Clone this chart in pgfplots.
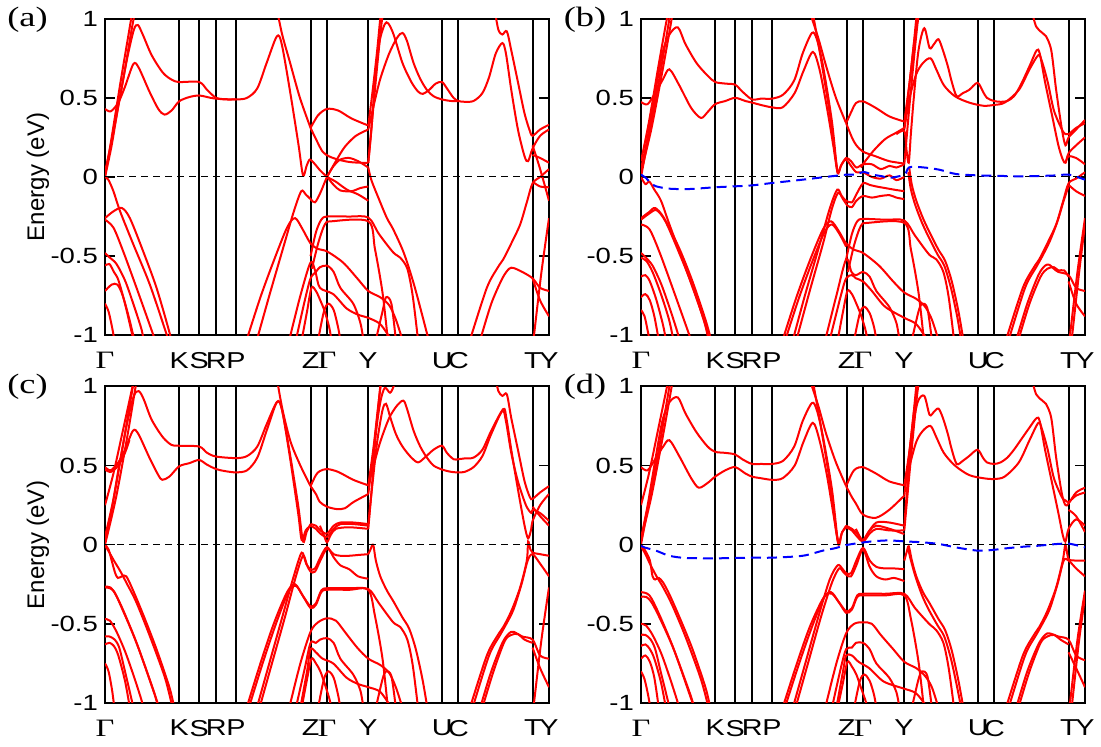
\documentclass[border=0pt]{standalone}
\usepackage{fontspec}
\setmainfont{Liberation Sans}[FakeStretch=1.25]
\newfontfamily\rmserif{Liberation Serif}[FakeStretch=1.3]
\newfontfamily\plainsans{Liberation Sans}
\usepackage{pgfplots}
\pgfplotsset{compat=1.18}
\pgfplotsset{
  bandaxis/.style={
    scale only axis, width=222pt, height=158.3pt, anchor=south west,
    xmin=0, xmax=100, ymin=-1, ymax=1,
    xtick={0,16.7,21.2,25.05,29.5,46.3,50,59.25,75.95,79.6,96.35,100},
    xticklabels={{\fontsize{12.5}{12}\selectfont\rmserif Γ},K,S,R,P,Z,{\fontsize{12.5}{12}\selectfont\rmserif Γ},Y,U,C,T,Y},
    xmajorgrids, major grid style={black, line width=1pt},
    x tick style={draw=none},
    ytick={-1,-0.5,0,0.5,1},
    yticklabels={\textnormal{-1},\textnormal{-0.5},\textnormal{0},\textnormal{0.5},\textnormal{1}},
    major tick length=5pt, y tick style={black, line width=0.8pt},
    axis line style={line width=1pt},
    tick label style={font=\fontsize{11}{12}\selectfont},
    xticklabel style={font=\fontsize{11.5}{12}\selectfont, yshift=-5pt},
  },
  band/.style={red, line width=1pt, smooth},
  zero/.style={black, line width=0.5pt, dash pattern=on 3.5pt off 2.5pt},
  spin/.style={blue, line width=1pt, dash pattern=on 5pt off 3pt, smooth},
}
\begin{document}
\begin{tikzpicture}
\useasboundingbox (0,0) rectangle (550.5pt,373.5pt);
% ---------------- (a)
\begin{axis}[bandaxis, at={(52.5pt,205.85pt)}]
\addplot[band] coordinates {(0,.43)(1.3,.415)(3,.47)(4.5,.57)(6.4,.714)(7.6,.69)(10,.54)(12,.43)(13.4,.394)(15,.42)(16.7,.478)(19,.505)(21.2,.515)(23,.505)(25,.495)(29.5,.49)(32,.50)(34.3,.56)(36.4,.72)(38.7,.888)(39.8,.84)(41.8,.52)(43.6,.2)(44.6,.01)(45.4,.07)(46.1,.11)(47,.09)(48.5,.04)(50,0)(51.5,-.05)(53,-.085)(55.5,-.09)(57.5,-.07)(59.3,-.06)};
\addplot[band] coordinates {(0,0)(1.5,.2)(3,.45)(5,.75)(6.5,.93)(7.4,.96)(8.5,.9)(10.5,.77)(13,.66)(15,.615)(16.7,.60)(21.2,.60)(23,.55)(25,.50)(27,.49)(29.5,.49)};
\addplot[band] coordinates {(0,0)(1.5,.25)(3.5,.6)(5.3,.9)(6.2,1.05)};
\addplot[band] coordinates {(0,.03)(2,.3)(4,.6)(5.8,.9)(6.8,1.05)};
\addplot[band] coordinates {(38.8,1.05)(39.9,.9)(41.7,.72)(43.9,.5)(46.3,.31)};
\addplot[band] coordinates {(46.3,.31)(48,.39)(50,.43)(52.5,.42)(55.5,.37)(59.3,.325)};
\addplot[band] coordinates {(46.3,.31)(47.5,.24)(49,.16)(50.5,.13)(52.5,.11)(55,.095)(57.5,.09)(59.3,.09)};
\addplot[band] coordinates {(50,0)(52,.1)(54,.19)(56.5,.26)(59.3,.30)};
\addplot[band] coordinates {(50,0)(52,-.03)(54.5,-.08)(57,-.11)(59.3,-.15)};
\addplot[band] coordinates {(0,0)(0.75,-.017)(1.9,-.09)(3.4,-.217)(6.4,-.427)(10.1,-.68)(13.9,-.996)(14.3,-1.03)};
\addplot[band] coordinates {(0,-.26)(1.9,-.217)(3.8,-.196)(5.6,-.26)(8.6,-.47)(11.6,-.70)(14.5,-.98)(14.8,-1.03)};
\addplot[band] coordinates {(0,-.27)(1.9,-.32)(4.1,-.47)(7.1,-.70)(10.9,-1.0)(11.2,-1.03)};
\addplot[band] coordinates {(0,-.48)(1.1,-.51)(2.6,-.55)(4.6,-.66)(6.6,-.82)(8.2,-.96)(8.7,-1.03)};
\addplot[band] coordinates {(0,-.56)(1,-.55)(2,-.6)(3,-.65)(4.5,-.8)(6,-.98)(6.4,-1.03)};
\addplot[band] coordinates {(0,-.72)(1.5,-.68)(2.8,-.68)(4,-.75)(5.5,-.9)(6.6,-1.03)};
\addplot[band] coordinates {(0,-.8)(0.8,-.85)(1.6,-.95)(2.1,-1.03)};
\addplot[band] coordinates {(31.9,-1.03)(35,-.76)(38,-.53)(41,-.32)(42.8,-.26)(44.5,-.33)(46.3,-.42)(48,-.455)(50,-.47)(53.6,-.54)(56.8,-.64)(59.3,-.72)(62,-.76)(64,-.81)(65.5,-.9)(67,-1.03)};
\addplot[band] coordinates {(34.2,-1.03)(37,-.75)(40,-.46)(42.5,-.22)(44.2,-.09)(45.2,-.11)(46.3,-.14)(47.3,-.16)(48.5,-.1)(50,0)(51.5,.07)(53,.11)(55,.12)(57,.1)(59.3,.06)};
\addplot[band] coordinates {(41.5,-1.03)(44,-.75)(46.3,-.54)(47.4,-.6)(48.4,-.7)(51.4,-.74)(54.4,-.83)(57,-.87)(59.3,-.89)(62,-.93)(64.5,-1.03)};
\addplot[band] coordinates {(43,-1.03)(45,-.78)(46.3,-.64)(47.5,-.6)(48.4,-.57)(50,-.56)(51.5,-.6)(53,-.7)(55.9,-.8)(57.5,-.92)(58.2,-1.03)};
\addplot[band] coordinates {(44.3,-1.03)(45.5,-.85)(46.5,-.7)(47.5,-.72)(48.5,-.78)(49.5,-.85)(50.5,-.95)(51,-1.03)};
\addplot[band] coordinates {(48,-1.03)(49.3,-.85)(50.3,-.8)(51.5,-.84)(52.5,-.95)(53,-1.03)};
\addplot[band] coordinates {(46.3,-.5)(47.5,-.35)(48.7,-.27)(50,-.25)(55,-.25)(59.3,-.256)(61.7,-.36)(64.9,-.476)(66.5,-.51)(68.1,-.58)(69.3,-.75)(70.5,-1.03)};
\addplot[band] coordinates {(46.6,-.58)(48,-.42)(49.5,-.3)(51,-.28)(59.3,-.28)(60.8,-.455)(62.5,-.73)(63.7,-1.03)};
\addplot[band] coordinates {(59.3,.06)(60,-.02)(61.7,-.14)(63.5,-.26)(64.9,-.33)(67.3,-.48)(69.7,-.69)(72.9,-1.03)};
\addplot[band] coordinates {(61,-1.03)(62.5,-.85)(63.3,-.76)(64.5,-.8)(65.5,-1.03)};
\addplot[band] coordinates {(59.3,.09)(60,.3)(60.8,.6)(61.8,.85)(63,.965)(63.8,.97)(65,.9)(67,.72)(69,.6)(70.5,.54)(71.6,.525)(73,.55)(74.5,.59)(75.9,.6)(77,.56)(78.5,.5)(79.6,.48)(81,.475)(83,.48)(85,.53)(86.5,.63)(88,.78)(89.5,.846)(90.3,.78)(91.5,.55)(93,.3)(94.5,.13)(95.3,.1)(96.3,.18)(98,.26)(100,.3)};
\addplot[band] coordinates {(59.3,.3)(60.5,.45)(62,.62)(64,.78)(65.8,.88)(67,.91)(68,.86)(69.5,.72)(71,.62)(72.5,.55)(74,.51)(75.9,.49)(78,.48)(79.6,.48)};
\addplot[band] coordinates {(59.3,.09)(60.3,.4)(61.3,.7)(62.2,.95)(62.7,1.05)};
\addplot[band] coordinates {(59.3,.325)(60.3,.55)(61.3,.8)(62,1.0)(62.4,1.05)};
\addplot[band] coordinates {(87.8,1.05)(88.6,.93)(89.5,.9)(90.5,.92)(91.5,.8)(93,.6)(94.5,.4)(95.7,.29)(96.3,.26)(98,.3)(100,.33)};
\addplot[band] coordinates {(96.3,-.03)(98,-.06)(100,-.065)};
\addplot[band] coordinates {(96.3,.2)(98,.05)(100,-.15)};
\addplot[band] coordinates {(96.3,.14)(98,.12)(100,.09)};
\addplot[band] coordinates {(82.2,-1.03)(86,-.70)(88.5,-.57)(89.7,-.52)(91.5,-.42)(93.5,-.3)(95,-.16)(96.3,-.04)(98,0)(100,.05)};
\addplot[band] coordinates {(84.5,-1.03)(87,-.8)(89.5,-.64)(91,-.58)(92,-.575)(94,-.6)(96.3,-.64)(98,-.7)(100,-.72)};
\addplot[band] coordinates {(96.3,-.64)(98,-.78)(100,-.88)};
\addplot[band] coordinates {(96.5,-1.03)(98.3,-.6)(100,-.26)};
\addplot[zero] coordinates {(0,0)(100,0)};
\end{axis}
% ---------------- (b)
\begin{axis}[bandaxis, at={(320.5pt,205.85pt)}]
\addplot[band] coordinates {(0,.474)(1.5,.46)(3.4,.54)(5,.62)(6.4,.68)(8.6,.58)(11.3,.436)(13.5,.373)(15,.41)(16.7,.46)(19,.48)(21.2,.50)(23.5,.48)(25,.47)(27,.455)(29.5,.44)(31.9,.44)(34.6,.53)(36.6,.67)(38.7,.79)(40.2,.68)(41.8,.45)(43.3,.2)(44.3,.025)(45,.07)(46.2,.12)(47.3,.1)(48.5,.06)(50,.08)(52,.08)(54,.05)(56,.07)(57.5,.06)(59.3,.08)};
\addplot[band] coordinates {(0,.05)(1.5,.25)(3,.5)(4.8,.78)(6.4,.9)(8.3,.945)(10,.84)(12.5,.72)(15,.64)(16.7,.6)(19,.59)(21.2,.583)(22.8,.54)(25,.49)(27,.495)(29.5,.495)(32,.52)(34.5,.61)(36.4,.78)(38.5,.91)(39.6,.87)(41,.7)(43,.35)(44.1,.06)(44.5,.03)(45.2,.08)(46.2,.11)(47.3,.07)(48.5,.03)(50,.03)(52,0)(54,-.01)(56,.01)(57.5,-.02)(59.3,0)};
\addplot[band] coordinates {(37.9,1.05)(39.9,.88)(41.7,.7)(43.9,.5)(46.2,.34)};
\addplot[band] coordinates {(38.6,1.05)(40.5,.75)(42.5,.4)(43.9,.1)(44.3,.03)};
\addplot[band] coordinates {(0,0)(2,.3)(4,.6)(5.8,.9)(6.7,1.05)};
\addplot[band] coordinates {(0,.1)(1.8,.35)(3.8,.68)(5.5,.95)(6.2,1.05)};
\addplot[band] coordinates {(0,.03)(2.3,.3)(4.5,.62)(6.3,.9)(7.2,1.05)};
\addplot[band] coordinates {(46.2,.34)(47.5,.42)(48.4,.467)(50,.478)(52.9,.436)(55.9,.383)(59.3,.35)};
\addplot[band] coordinates {(46.2,.34)(47.5,.25)(48.5,.2)(50,.16)(52.9,.13)(55.9,.1)(59.3,.085)};
\addplot[band] coordinates {(49.5,.06)(50.5,.1)(52.5,.17)(55,.24)(57.5,.28)(59.3,.31)};
\addplot[band] coordinates {(34.2,-1.03)(37,-.74)(40,-.45)(42.5,-.2)(44.2,-.08)(45.2,-.12)(46.2,-.15)(47.5,-.16)(48.5,-.11)(50,-.04)(51.5,-.05)(53,-.06)(55,-.07)(57,-.08)(59.3,-.09)};
\addplot[band] coordinates {(35,-1.03)(38,-.72)(41,-.42)(43,-.2)(44.4,-.1)(45.5,-.14)(46.5,-.18)(47.5,-.19)(48.5,-.15)(50,-.12)(52,-.13)(54,-.12)(56,-.115)(57.5,-.13)(59.3,-.14)};
\addplot[band] coordinates {(31.9,-1.03)(35,-.76)(38,-.53)(41,-.33)(42.8,-.28)(44.5,-.34)(46.2,-.42)(48,-.46)(50,-.48)(53.6,-.56)(56.8,-.66)(59.3,-.73)(62,-.77)(64,-.82)(65.5,-.9)(67,-1.03)};
\addplot[band] coordinates {(32.5,-1.03)(35.5,-.77)(38.5,-.54)(41.3,-.35)(43,-.30)(44.7,-.36)(46.2,-.44)};
\addplot[band] coordinates {(46.2,-.52)(47.5,-.36)(48.7,-.28)(50,-.265)(55,-.27)(59.3,-.275)(61.7,-.37)(64.9,-.49)(66.5,-.52)(68.1,-.6)(69.3,-.76)(70.5,-1.03)};
\addplot[band] coordinates {(46.6,-.6)(48,-.43)(49.5,-.31)(51,-.29)(59.3,-.29)(60.8,-.46)(62.5,-.73)(63.7,-1.03)};
\addplot[band] coordinates {(41.5,-1.03)(44,-.75)(46.2,-.52)(47.4,-.6)(48.4,-.62)(50,-.6)(51.5,-.63)(53,-.72)(55.9,-.82)(57.5,-.92)(58.2,-1.03)};
\addplot[band] coordinates {(42.5,-1.03)(45,-.75)(46.2,-.64)(47.5,-.62)(48.4,-.64)(50,-.66)(52,-.72)(55,-.82)(59.3,-.89)(62,-.93)(64.5,-1.03)};
\addplot[band] coordinates {(44.3,-1.03)(45.5,-.85)(46.5,-.72)(47.5,-.74)(48.5,-.8)(49.5,-.87)(50.5,-.96)(51,-1.03)};
\addplot[band] coordinates {(48,-1.03)(49.3,-.86)(50.3,-.82)(51.5,-.86)(52.5,-.95)(53,-1.03)};
\addplot[band] coordinates {(0,0)(1,-.045)(1.9,-.03)(3,-.08)(4.5,-.15)(6.4,-.3)(10.1,-.58)(13.9,-.88)(15.4,-1.03)};
\addplot[band] coordinates {(0,-.26)(1.9,-.22)(3.2,-.196)(5.2,-.26)(8.6,-.45)(11.6,-.66)(14.5,-.9)(15.8,-1.03)};
\addplot[band] coordinates {(0,-.27)(1.9,-.23)(3.5,-.21)(5.5,-.28)(8.6,-.48)(11.6,-.69)(14.3,-.92)(15.2,-1.03)};
\addplot[band] coordinates {(0,-.3)(1.9,-.33)(4.1,-.47)(7.1,-.70)(10.9,-1.0)(11.2,-1.03)};
\addplot[band] coordinates {(0,-.48)(1.1,-.51)(2.6,-.56)(4.6,-.68)(6.6,-.84)(8.2,-.98)(8.6,-1.03)};
\addplot[band] coordinates {(0,-.51)(1.2,-.53)(2.6,-.6)(4.5,-.74)(6.3,-.9)(7.3,-1.03)};
\addplot[band] coordinates {(0,-.63)(1,-.62)(2,-.66)(3.5,-.78)(5,-.94)(5.6,-1.03)};
\addplot[band] coordinates {(0,-.76)(1,-.74)(2,-.78)(3,-.88)(4,-1.03)};
\addplot[band] coordinates {(0,-.84)(0.8,-.88)(1.5,-.97)(1.9,-1.03)};
\addplot[band] coordinates {(57.5,.27)(59.3,.29)(59.8,.17)(60.3,.09)(60.8,.28)(61.5,.52)(62.5,.8)(63.8,.94)(65,.815)(66,.84)(67,.87)(68,.8)(69.1,.7)(70,.6)(71.1,.51)(72.5,.53)(73.9,.55)(75.8,.595)(77,.54)(77.9,.5)(79.5,.48)(81,.475)(82.5,.48)(84,.51)(85.5,.58)(87.5,.7)(89.1,.80)(89.8,.78)(91,.6)(92.5,.4)(94,.2)(95,.11)(95.6,.09)(96.3,.15)(98,.2)(100,.25)};
\addplot[band] coordinates {(59.3,.3)(60.5,.5)(62,.65)(63.5,.72)(65.2,.75)(66.5,.68)(68.2,.58)(70.7,.51)(73.9,.47)(77.1,.45)(79.5,.455)(81.9,.47)(85.1,.55)(87.5,.68)(89.5,.77)(90.3,.73)(91.6,.6)(93,.42)(94.8,.3)(95.6,.27)(96.3,.27)(98,.31)(100,.34)};
\addplot[band] coordinates {(88,1.05)(89,.95)(90.4,.91)(91.2,.89)(92.4,.8)(93.5,.55)(94.8,.3)(95.6,.2)(96.3,.25)(98,.3)(100,.36)};
\addplot[band] coordinates {(59.3,.08)(60.3,.4)(61.3,.7)(62.2,.95)(62.7,1.05)};
\addplot[band] coordinates {(59.3,.31)(60.3,.55)(61.3,.8)(62,1.0)(62.4,1.05)};
\addplot[band] coordinates {(59.3,.35)(60.5,.6)(61.5,.85)(62.6,1.05)};
\addplot[band] coordinates {(96.3,-.05)(98,-.09)(100,-.12)};
\addplot[band] coordinates {(95.6,.09)(96.3,.13)(98,.12)(100,.08)};
\addplot[band] coordinates {(60.4,.06)(61,-.05)(62,-.15)(63.5,-.26)(65,-.35)(67,-.46)(68.5,-.53)(70,-.66)(71.5,-.85)(72.6,-1.03)};
\addplot[band] coordinates {(60.2,.03)(60.8,-.08)(61.8,-.18)(63.3,-.29)(64.8,-.38)(66.8,-.49)(68.3,-.56)(69.8,-.7)(71.2,-.88)(72.1,-1.03)};
\addplot[band] coordinates {(61,-1.03)(62.5,-.85)(63.3,-.8)(64.5,-.83)(65.5,-1.03)};
\addplot[band] coordinates {(96.5,-1.03)(98.3,-.6)(100,-.26)};
\addplot[band] coordinates {(97,-1.03)(98.6,-.62)(100,-.3)};
\addplot[band] coordinates {(82.2,-1.03)(86,-.70)(88.5,-.57)(89.7,-.52)(91.5,-.42)(93.5,-.3)(95,-.16)(96.3,-.04)(98,-.01)(100,.03)};
\addplot[band] coordinates {(82.8,-1.03)(86.5,-.70)(89,-.57)(90.2,-.51)(92,-.41)(93.8,-.28)(95.3,-.14)(96.3,-.06)};
\addplot[band] coordinates {(84.5,-1.03)(87,-.8)(89.5,-.62)(91,-.56)(92,-.555)(93,-.58)(94,-.6)(96.3,-.62)(98,-.7)(100,-.72)};
\addplot[band] coordinates {(85,-1.03)(87.5,-.8)(90,-.63)(91.5,-.58)(93,-.57)(94,-.59)(95.3,-.59)(96.3,-.63)};
\addplot[band] coordinates {(96.3,-.66)(98,-.8)(100,-.88)};
\addplot[zero] coordinates {(0,0)(100,0)};
\addplot[spin] coordinates {(0,.015)(1.1,-.006)(2.2,-.038)(3.4,-.059)(6.4,-.074)(10.9,-.076)(16.7,-.065)(21.2,-.059)(25,-.053)(29.5,-.038)(36.4,-.017)(40.9,-.002)(46.3,.015)(48.4,.015)(50.07,.032)(52.2,.015)(54.4,.004)(55.9,-.006)(59.3,.015)(60.4,.061)(63.4,.061)(67.2,.046)(70.9,.019)(75.97,.01)(79.6,.008)(85.96,.004)(93.5,.01)(96.3,.015)(100,-.017)};
\end{axis}
% ---------------- (c)
\begin{axis}[bandaxis, at={(52.5pt,22pt)}]
\addplot[band] coordinates {(0,.49)(1.3,.47)(3,.52)(4.5,.6)(6.3,.72)(7.5,.7)(10,.55)(12,.44)(12.9,.41)(14.5,.43)(16.7,.495)(19,.515)(21.2,.535)(23,.505)(25,.478)(27,.465)(29.5,.457)(32,.47)(34.3,.55)(36.4,.72)(38.7,.90)(39.8,.86)(41.5,.6)(43.5,.25)(44.6,.02)(45.4,.08)(46.3,.13)};
\addplot[band] coordinates {(0,.475)(1.3,.46)(3,.5)(4.5,.58)(5.5,.66)};
\addplot[band] coordinates {(0,.02)(1.5,.22)(3,.47)(5,.77)(6.5,.94)(7.6,.97)(8.7,.92)(10.5,.79)(13,.68)(15,.63)(16.7,.625)(21.2,.62)(23,.58)(25,.557)(29.5,.547)(32,.56)(34.3,.62)(36.4,.76)(38.7,.9)(39.8,.86)(41.5,.58)(43.5,.2)(44.3,.03)(45.2,.09)(46.3,.12)};
\addplot[band] coordinates {(38.7,1.05)(40,.85)(41.8,.65)(44,.5)(46.3,.37)};
\addplot[band] coordinates {(0,.25)(1.9,.45)(4.1,.73)(6.2,1.0)(6.5,1.05)};
\addplot[band] coordinates {(0,.05)(2,.3)(4,.62)(5.8,.92)(6.6,1.05)};
\addplot[band] coordinates {(0,0)(2.5,.3)(5,.68)(6.9,1.0)(7.2,1.05)};
\addplot[band] coordinates {(46.3,.37)(47.5,.44)(48.4,.465)(50,.478)(52.5,.46)(55.9,.41)(59.3,.375)};
\addplot[band] coordinates {(46.3,.37)(47.5,.32)(48.4,.27)(50,.24)(52.2,.225)(54,.23)(56,.27)(59.3,.32)};
\addplot[band] coordinates {(46.3,.13)(47.5,.12)(48.5,.09)(50,.07)(51.5,.12)(53,.14)(56,.14)(59.3,.13)};
\addplot[band] coordinates {(46.3,.12)(47.5,.1)(48.5,.07)(50,.05)(51.5,.1)(53,.13)(56,.13)(59.3,.12)};
\addplot[band] coordinates {(48.4,.12)(49.3,.06)(50,.015)(50.8,.06)(52,.1)(55,.11)(59.3,.1)};
\addplot[band] coordinates {(34.2,-1.03)(37,-.75)(40,-.45)(42.5,-.2)(44.3,-.05)(45.3,-.12)(46.3,-.155)(47.3,-.15)(48.5,-.08)(50,-.015)(51.5,-.08)(53,-.13)(55,-.155)(57,-.2)(59.3,-.215)};
\addplot[band] coordinates {(34.8,-1.03)(37.6,-.75)(40.6,-.45)(43,-.2)(44.6,-.07)(45.5,-.13)(46.3,-.17)(47.3,-.17)(48.5,-.1)(50,-.025)(51.5,-.06)(53,-.07)(55,-.07)(57,-.065)(59.3,-.06)};
\addplot[band] coordinates {(31.9,-1.03)(35,-.75)(38,-.5)(41,-.3)(42.8,-.25)(44.5,-.32)(46.3,-.39)(47.5,-.37)(48.7,-.29)(50,-.275)(55,-.275)(59.3,-.28)(61.7,-.37)(64.9,-.49)(66.5,-.52)(68.1,-.6)(69.3,-.76)(70.5,-1.03)};
\addplot[band] coordinates {(32.4,-1.03)(35.5,-.75)(38.5,-.5)(41.3,-.3)(43,-.26)(44.7,-.33)(46.3,-.40)(47.5,-.38)(48.7,-.30)(50,-.285)(55,-.285)(59.3,-.285)(60.8,-.45)(62.5,-.72)(63.7,-1.03)};
\addplot[band] coordinates {(41.5,-1.03)(44,-.75)(46.3,-.55)(48,-.49)(50,-.465)(52,-.48)(54,-.55)(56.8,-.65)(59.3,-.72)(62,-.76)(64,-.81)(65.5,-.9)(67,-1.03)};
\addplot[band] coordinates {(43,-1.03)(45,-.78)(46.3,-.62)(47.5,-.62)(48.4,-.6)(50,-.59)(51.5,-.62)(53,-.72)(55.9,-.82)(57.5,-.92)(58.2,-1.03)};
\addplot[band] coordinates {(44,-1.03)(45.5,-.8)(46.3,-.66)(47.5,-.68)(49,-.72)(51.4,-.75)(54.4,-.84)(57,-.88)(59.3,-.9)(62,-.93)(64.5,-1.03)};
\addplot[band] coordinates {(48,-1.03)(49.3,-.85)(50.3,-.8)(51.5,-.84)(52.5,-.95)(53,-1.03)};
\addplot[band] coordinates {(44.3,-1.03)(45.5,-.85)(46.5,-.72)(47.5,-.75)(48.5,-.8)(49.5,-.88)(50.5,-.97)(51,-1.03)};
\addplot[band] coordinates {(0,0)(0.8,-.03)(1.5,-.1)(2.3,-.18)(2.9,-.21)(3.8,-.2)(4.8,-.2)(6.5,-.3)(9,-.47)(11.6,-.66)(14.5,-.9)(15.6,-1.03)};
\addplot[band] coordinates {(0,-.005)(1,-.05)(2,-.1)(3.5,-.17)(5,-.25)(7,-.36)(10,-.57)(13.5,-.84)(15.2,-1.03)};
\addplot[band] coordinates {(0,-.27)(1.9,-.29)(4.1,-.42)(7.1,-.62)(10.9,-.92)(12,-1.03)};
\addplot[band] coordinates {(0,-.265)(1.2,-.27)(2.5,-.32)(4.5,-.44)(7.5,-.65)(11,-.93)(12.2,-1.03)};
\addplot[band] coordinates {(0,-.47)(1.1,-.48)(2.6,-.55)(4.6,-.68)(6.6,-.84)(8.2,-.98)(8.6,-1.03)};
\addplot[band] coordinates {(0,-.58)(1,-.58)(2.2,-.6)(3.2,-.65)(4.5,-.8)(6,-.98)(6.4,-1.03)};
\addplot[band] coordinates {(0,-.63)(1,-.62)(2,-.64)(3,-.7)(4.5,-.86)(5.6,-1.03)};
\addplot[band] coordinates {(0,-.75)(0.8,-.8)(1.6,-.92)(2.1,-1.03)};
\addplot[band] coordinates {(59.3,.1)(60.2,.4)(61,.7)(62,.9)(63,.99)(64.2,.96)(65,1.0)(65.5,1.05)};
\addplot[band] coordinates {(59.3,.13)(60.3,.4)(61.3,.65)(62.5,.85)(63.3,.89)(64.3,.8)(65.5,.7)(67,.62)(69,.55)(70.5,.52)(72,.55)(74,.6)(75.9,.625)(77,.58)(78.5,.54)(79.6,.54)(81,.545)(83,.55)(85,.6)(87,.72)(89.7,.857)(90.4,.8)(91.5,.6)(93,.35)(94.5,.12)(95.3,.04)(96,.1)(96.3,.15)(98,.25)(100,.32)};
\addplot[band] coordinates {(59.3,.37)(60.5,.5)(62,.65)(64,.8)(65.8,.88)(67.2,.91)(68,.86)(69.5,.72)(71,.62)(72.5,.55)(74,.5)(75.9,.475)(78,.46)(79.6,.457)(81,.46)(83,.49)(85,.56)(87,.7)(89.5,.845)(90.3,.78)(91.5,.58)(93,.4)(94.8,.25)(96,.2)(96.3,.22)(98,.2)(100,.15)};
\addplot[band] coordinates {(88,1.05)(88.6,.97)(89.5,.94)(90.5,.95)(91.5,.8)(93,.6)(94.5,.4)(95.7,.3)(96.3,.29)(98,.33)(100,.37)};
\addplot[band] coordinates {(59.3,.32)(60.3,.55)(61.3,.8)(62,1.0)(62.4,1.05)};
\addplot[band] coordinates {(59.3,.375)(60.5,.62)(61.5,.87)(62.3,1.05)};
\addplot[band] coordinates {(96.3,.24)(98,.18)(100,.12)};
\addplot[band] coordinates {(59.3,-.06)(59.8,-.03)(60.4,0)(61,-.1)(62,-.2)(63.5,-.29)(65,-.36)(67,-.46)(68.5,-.53)(70,-.66)(71.5,-.85)(72.6,-1.03)};
\addplot[band] coordinates {(61,-1.03)(62.5,-.85)(63.3,-.8)(64.5,-.83)(65.5,-1.03)};
\addplot[band] coordinates {(82.2,-1.03)(86,-.70)(88.5,-.57)(89.7,-.52)(91.5,-.42)(93.5,-.27)(95,-.1)(95.3,.02)(95.8,-.03)(96.3,-.05)(98,-.06)(100,-.07)};
\addplot[band] coordinates {(82.8,-1.03)(86.5,-.7)(89,-.57)(90.2,-.51)(92,-.41)(93.8,-.25)(95.2,-.1)(96.3,-.06)(98,-.12)(100,-.2)};
\addplot[band] coordinates {(84.5,-1.03)(87,-.8)(89.5,-.62)(91,-.56)(92,-.55)(94,-.58)(96.3,-.6)(98,-.7)(100,-.72)};
\addplot[band] coordinates {(85,-1.03)(87.5,-.8)(90,-.61)(91.5,-.57)(93,-.565)(94.5,-.6)(96.3,-.62)};
\addplot[band] coordinates {(96.3,-.65)(98,-.78)(100,-.9)};
\addplot[band] coordinates {(96.5,-1.03)(98.3,-.6)(100,-.27)};
\addplot[zero] coordinates {(0,0)(100,0)};
\end{axis}
% ---------------- (d)
\begin{axis}[bandaxis, at={(320.5pt,22pt)}]
\addplot[band] coordinates {(0,.49)(1.5,.47)(3.4,.55)(5,.62)(6.4,.66)(8.6,.56)(11.3,.42)(13,.36)(15,.39)(16.7,.43)(19,.47)(21.2,.49)(23.5,.45)(25,.43)(27,.42)(29.5,.41)(31.9,.42)(34.6,.5)(36.6,.65)(38.7,.77)(40.2,.66)(41.8,.45)(43.3,.2)(44.5,0)(45.2,.07)(46.2,.12)};
\addplot[band] coordinates {(0,.04)(1.5,.25)(3,.5)(4.8,.78)(6.4,.9)(8.3,.93)(10,.83)(12.5,.71)(15,.62)(16.7,.587)(19,.58)(21.2,.57)(22.8,.54)(25,.51)(27,.51)(29.5,.51)(32,.53)(34.5,.62)(36.4,.78)(38.5,.895)(39.6,.85)(41,.68)(43,.35)(44.2,.05)(44.6,.01)(45.3,.08)(46.2,.11)};
\addplot[band] coordinates {(37.9,1.05)(39.9,.88)(41.7,.7)(43.9,.52)(46.2,.37)};
\addplot[band] coordinates {(38.6,1.05)(40.5,.75)(42.5,.4)(43.9,.1)(44.4,.02)};
\addplot[band] coordinates {(0,0)(2,.3)(4,.6)(5.8,.9)(6.7,1.05)};
\addplot[band] coordinates {(0,.25)(1.8,.45)(3.8,.72)(5.5,.95)(6.2,1.05)};
\addplot[band] coordinates {(0,.03)(2.3,.3)(4.5,.62)(6.3,.9)(7.2,1.05)};
\addplot[band] coordinates {(46.2,.37)(47.5,.45)(48.4,.48)(50,.49)(52.9,.45)(55.9,.4)(59.3,.375)};
\addplot[band] coordinates {(46.2,.37)(47.5,.3)(48.4,.26)(50,.19)(52.9,.17)(55.9,.22)(59.3,.31)};
\addplot[band] coordinates {(46.2,.12)(47.5,.1)(48.4,.08)(50,.03)(51.5,.09)(53,.12)(56,.1)(59.3,.067)};
\addplot[band] coordinates {(46.2,.11)(47.5,.09)(48.4,.06)(50,.02)(51.5,.07)(53,.1)(56,.09)(59.3,.09)};
\addplot[band] coordinates {(48.4,.1)(49.3,.05)(50,.02)(51,.07)(53,.14)(55.9,.14)(59.3,.12)};
\addplot[band] coordinates {(34.2,-1.03)(37,-.75)(40,-.45)(42.5,-.22)(44.3,-.13)(45.3,-.15)(46.2,-.18)(47.3,-.18)(48.5,-.1)(50,-.02)(51.5,-.1)(53,-.14)(55,-.15)(57,-.15)(59.3,-.155)};
\addplot[band] coordinates {(34.8,-1.03)(37.6,-.75)(40.6,-.45)(43,-.24)(44.6,-.15)(45.5,-.17)(46.2,-.19)(47.3,-.2)(48.5,-.13)(50,-.03)(51.5,-.14)(53,-.2)(55,-.22)(57,-.21)(59.3,-.23)};
\addplot[band] coordinates {(31.9,-1.03)(35,-.76)(38,-.52)(41,-.34)(42.8,-.3)(44.5,-.36)(46.2,-.42)(47.5,-.4)(48.7,-.32)(50,-.31)(55,-.31)(59.3,-.31)(61.7,-.4)(64.9,-.5)(66.5,-.54)(68.1,-.62)(69.3,-.78)(70.5,-1.03)};
\addplot[band] coordinates {(32.4,-1.03)(35.5,-.76)(38.5,-.52)(41.3,-.33)(43,-.31)(44.7,-.37)(46.2,-.43)(47.5,-.41)(48.7,-.33)(50,-.32)(55,-.32)(59.3,-.32)(60.8,-.47)(62.5,-.74)(63.7,-1.03)};
\addplot[band] coordinates {(41.5,-1.03)(44,-.75)(46.2,-.56)(48,-.5)(50,-.49)(52,-.5)(54,-.57)(56.8,-.66)(59.3,-.74)(62,-.78)(64,-.83)(65.5,-.9)(67,-1.03)};
\addplot[band] coordinates {(43,-1.03)(45,-.78)(46.2,-.66)(47.5,-.65)(48.4,-.62)(50,-.62)(51.5,-.66)(53,-.75)(55.9,-.84)(57.5,-.93)(58.2,-1.03)};
\addplot[band] coordinates {(44,-1.03)(45.5,-.8)(46.2,-.7)(47.5,-.7)(49,-.74)(51.4,-.78)(54.4,-.86)(57,-.89)(59.3,-.91)(62,-.94)(64.5,-1.03)};
\addplot[band] coordinates {(48,-1.03)(49.3,-.86)(50.3,-.82)(51.5,-.86)(52.5,-.95)(53,-1.03)};
\addplot[band] coordinates {(44.3,-1.03)(45.5,-.87)(46.5,-.74)(47.5,-.77)(48.5,-.82)(49.5,-.9)(50.5,-.98)(51,-1.03)};
\addplot[band] coordinates {(0,0)(1,-.04)(2,-.1)(2.6,-.2)(3.2,-.22)(4,-.21)(5,-.24)(6.5,-.32)(9,-.48)(11.6,-.66)(14.5,-.9)(15.6,-1.03)};
\addplot[band] coordinates {(0,-.01)(1,-.06)(2,-.12)(3.5,-.2)(5,-.27)(7,-.38)(10,-.58)(13.5,-.85)(15.2,-1.03)};
\addplot[band] coordinates {(0,-.3)(1.9,-.32)(4.1,-.44)(7.1,-.64)(10.9,-.93)(12,-1.03)};
\addplot[band] coordinates {(0,-.33)(1.2,-.33)(2.5,-.37)(4.5,-.48)(7.5,-.67)(11,-.95)(12,-1.03)};
\addplot[band] coordinates {(0,-.5)(1.1,-.51)(2.6,-.57)(4.6,-.69)(6.6,-.85)(8.2,-.99)(8.6,-1.03)};
\addplot[band] coordinates {(0,-.57)(1,-.57)(2.2,-.6)(3.2,-.66)(4.5,-.81)(6,-.98)(6.4,-1.03)};
\addplot[band] coordinates {(0,-.64)(1,-.63)(2,-.66)(3,-.72)(4.5,-.87)(5.6,-1.03)};
\addplot[band] coordinates {(0,-.72)(1,-.7)(2,-.74)(3,-.84)(4,-1.03)};
\addplot[band] coordinates {(0,-.8)(0.8,-.85)(1.6,-.95)(2.1,-1.03)};
\addplot[band] coordinates {(59.3,.12)(60.2,.45)(61,.7)(62.3,.9)(63.8,.94)(65,.82)(66,.84)(67,.86)(68,.8)(69.1,.7)(70,.6)(71.1,.51)(72.5,.53)(73.9,.56)(75.8,.6)(77,.55)(77.9,.52)(79.5,.51)(81,.52)(82.5,.55)(84,.6)(85.5,.66)(87.5,.74)(89.1,.80)(89.8,.78)(91,.6)(92.5,.4)(94,.2)(95,.06)(95.6,.02)(96.3,.1)(98,.16)(100,.12)};
\addplot[band] coordinates {(59.3,.37)(60.5,.5)(62,.65)(63.5,.72)(65.2,.75)(66.5,.68)(68.2,.58)(70.7,.5)(73.9,.44)(77.1,.42)(79.5,.415)(81.9,.43)(85.1,.52)(87.5,.66)(89.5,.77)(90.3,.73)(91.6,.6)(93,.42)(94.8,.3)(95.6,.28)(96.3,.27)(98,.31)(100,.33)};
\addplot[band] coordinates {(88,1.05)(89,.95)(90.4,.91)(91.2,.89)(92.4,.8)(93.5,.55)(94.8,.32)(95.6,.25)(96.3,.26)(98,.33)(100,.36)};
\addplot[band] coordinates {(59.3,.09)(60.3,.4)(61.3,.7)(62.2,.95)(62.7,1.05)};
\addplot[band] coordinates {(59.3,.31)(60.3,.55)(61.3,.8)(62,1.0)(62.4,1.05)};
\addplot[band] coordinates {(59.3,.375)(60.5,.6)(61.5,.85)(62.6,1.05)};
\addplot[band] coordinates {(96.3,.22)(98,.18)(100,.08)};
\addplot[band] coordinates {(59.3,-.1)(59.8,-.05)(60.3,-.01)(61,-.1)(62,-.2)(63.5,-.3)(65,-.37)(67,-.47)(68.5,-.54)(70,-.67)(71.5,-.86)(72.6,-1.03)};
\addplot[band] coordinates {(60.2,-.03)(60.8,-.1)(61.8,-.2)(63.3,-.32)(64.8,-.41)(66.8,-.51)(68.3,-.58)(69.8,-.72)(71.2,-.9)(72.1,-1.03)};
\addplot[band] coordinates {(61,-1.03)(62.5,-.85)(63.3,-.8)(64.5,-.83)(65.5,-1.03)};
\addplot[band] coordinates {(82.2,-1.03)(86,-.70)(88.5,-.57)(89.7,-.52)(91.5,-.42)(93.5,-.27)(95,-.1)(95.6,0)(96.3,-.09)(98,-.1)(100,-.1)};
\addplot[band] coordinates {(82.8,-1.03)(86.5,-.7)(89,-.57)(90.2,-.51)(92,-.41)(93.8,-.25)(95.2,-.1)(96.3,-.1)(98,-.15)(100,-.2)};
\addplot[band] coordinates {(84.5,-1.03)(87,-.8)(89.5,-.63)(91,-.57)(92,-.56)(94,-.58)(96.3,-.6)(98,-.7)(100,-.73)};
\addplot[band] coordinates {(85,-1.03)(87.5,-.8)(90,-.62)(91.5,-.58)(93,-.57)(94.5,-.6)(96.3,-.63)};
\addplot[band] coordinates {(96.3,-.68)(98,-.78)(100,-.9)};
\addplot[band] coordinates {(96.5,-1.03)(98.3,-.6)(100,-.29)};
\addplot[band] coordinates {(97,-1.03)(98.6,-.62)(100,-.33)};
\addplot[zero] coordinates {(0,0)(100,0)};
\addplot[spin] coordinates {(0,-.006)(0.75,-.017)(3.4,-.038)(6.4,-.07)(10.1,-.084)(16.7,-.086)(21.2,-.084)(25,-.082)(29.5,-.082)(36.4,-.07)(40.9,-.038)(43.9,-.021)(46.3,-.002)(50.2,.015)(52.9,.023)(55.9,.027)(59.3,.021)(63.4,.015)(67.2,.004)(70.9,-.017)(76,-.038)(79.6,-.032)(82.2,-.023)(86,-.013)(89.7,-.006)(93.5,.004)(96.5,.006)(100,-.017)};
\end{axis}
% ---------------- labels
\node[font=\rmserif\fontsize{14}{14}\selectfont] at (13.75pt,363.5pt) {(a)};
\node[font=\rmserif\fontsize{14}{14}\selectfont] at (292.5pt,363.5pt) {(b)};
\node[font=\rmserif\fontsize{14}{14}\selectfont] at (13.75pt,180pt) {(c)};
\node[font=\rmserif\fontsize{14}{14}\selectfont] at (292.5pt,180pt) {(d)};
\node[rotate=90, font=\plainsans\fontsize{12}{12}\selectfont] at (19pt,285pt) {Energy (eV)};
\node[rotate=90, font=\plainsans\fontsize{12}{12}\selectfont] at (19pt,101pt) {Energy (eV)};
\end{tikzpicture}
\end{document}
